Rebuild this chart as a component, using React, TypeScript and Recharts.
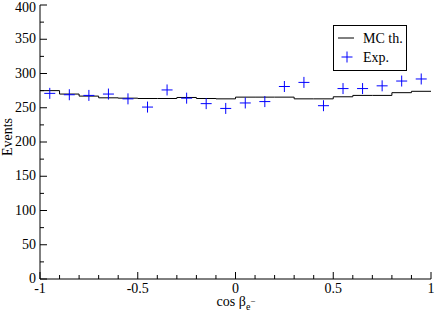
import React from "react";
import { ComposedChart, Line, Scatter, XAxis, YAxis } from "recharts";

// bin edges for the MC histogram (last edge repeats the last bin value)
const MC_EDGES = [-1, -0.9, -0.8, -0.7, -0.6, -0.5, -0.4, -0.3, -0.2, -0.1, 0, 0.1, 0.2, 0.3, 0.4, 0.5, 0.6, 0.7, 0.8, 0.9, 1];
const MC_COUNTS = [275, 270, 267, 264.5, 264, 263.5, 263.5, 265, 263.5, 263, 265.5, 265.5, 265.5, 263, 263, 266, 268, 268, 272, 274, 274];

const BIN_CENTERS = [-0.95, -0.85, -0.75, -0.65, -0.55, -0.45, -0.35, -0.25, -0.15, -0.05, 0.05, 0.15, 0.25, 0.35, 0.45, 0.55, 0.65, 0.75, 0.85, 0.95];
const EXP_COUNTS = [271, 269, 268, 270, 263, 251, 276, 264, 256, 249, 257, 259, 281, 287, 253, 278, 278, 282, 289, 292];

const X_TICKS = [-1, -0.9, -0.8, -0.7, -0.6, -0.5, -0.4, -0.3, -0.2, -0.1, 0, 0.1, 0.2, 0.3, 0.4, 0.5, 0.6, 0.7, 0.8, 0.9, 1];
const Y_TICKS = [0, 25, 50, 75, 100, 125, 150, 175, 200, 225, 250, 275, 300, 325, 350, 375, 400];

const mcData = MC_EDGES.map((x, i) => ({ x, y: MC_COUNTS[i] }));
const expData = BIN_CENTERS.map((x, i) => ({ x, y: EXP_COUNTS[i] }));

const FONT = "'Liberation Serif', 'Times New Roman', serif";
const BLUE = "#0000ff";

const isMajorX = (v: number) => Math.abs(v * 2 - Math.round(v * 2)) < 1e-6;
const isMajorY = (v: number) => v % 50 === 0;

function BottomTick({ x, y, payload }: any) {
  const major = isMajorX(payload.value);
  return (
    <g>
      <line x1={x} x2={x} y1={y} y2={y - (major ? 7 : 4)} stroke="#000" />
      {major && (
        <text x={x} y={y + 14} textAnchor="middle" fontSize={14} fontFamily={FONT} fill="#000">
          {String(payload.value)}
        </text>
      )}
    </g>
  );
}

function TopTick({ x, y, payload }: any) {
  const major = isMajorX(payload.value);
  return <line x1={x} x2={x} y1={y} y2={y + (major ? 7 : 4)} stroke="#000" />;
}

function LeftTick({ x, y, payload }: any) {
  const major = isMajorY(payload.value);
  return (
    <g>
      <line x1={x} x2={x + (major ? 7 : 4)} y1={y} y2={y} stroke="#000" />
      {major && (
        <text x={x - 4} y={Math.max(y + 4, 12)} textAnchor="end" fontSize={14} fontFamily={FONT} fill="#000">
          {String(payload.value)}
        </text>
      )}
    </g>
  );
}

function RightTick({ x, y, payload }: any) {
  const major = isMajorY(payload.value);
  return <line x1={x} x2={x - (major ? 7 : 4)} y1={y} y2={y} stroke="#000" />;
}

function Cross({ cx, cy }: any) {
  if (cx == null || cy == null) return null;
  return (
    <path
      d={`M${cx - 5.5},${cy}H${cx + 5.5}M${cx},${cy - 5.5}V${cy + 5.5}`}
      stroke={BLUE}
      strokeWidth={1}
      fill="none"
    />
  );
}

export default function App() {
  return (
    <div style={{ position: "absolute", left: 0, top: 0, width: 436, height: 316, background: "#fff" }}>
      <ComposedChart width={436} height={316} margin={{ top: 5, right: 5, bottom: 0, left: 0 }}>
        <XAxis
          xAxisId="b"
          dataKey="x"
          type="number"
          domain={[-1, 1]}
          ticks={X_TICKS}
          interval={0}
          height={37}
          tickSize={0}
          tickMargin={0}
          tickLine={false}
          axisLine={{ stroke: "#000" }}
          tick={<BottomTick />}
          allowDataOverflow
          label={{
            content: () => (
              <text x={236} y={306} textAnchor="middle" fontSize={14} fontFamily={FONT} fill="#000">
                cos β
                <tspan fontSize={10} dy={4}>e</tspan>
                <tspan fontSize={9} dy={-6}>−</tspan>
              </text>
            ),
          }}
        />
        <XAxis
          xAxisId="t"
          orientation="top"
          type="number"
          domain={[-1, 1]}
          ticks={X_TICKS}
          interval={0}
          height={0}
          tickSize={0}
          tickMargin={0}
          tickLine={false}
          axisLine={{ stroke: "#000" }}
          tick={<TopTick />}
          allowDataOverflow
        />
        <YAxis
          yAxisId="l"
          dataKey="y"
          type="number"
          domain={[0, 400]}
          ticks={Y_TICKS}
          interval={0}
          width={40}
          tickSize={0}
          tickMargin={0}
          tickLine={false}
          axisLine={{ stroke: "#000" }}
          tick={<LeftTick />}
          allowDataOverflow
          label={{
            content: () => (
              <text
                x={12}
                y={137}
                transform="rotate(-90 12 137)"
                textAnchor="middle"
                fontSize={14}
                fontFamily={FONT}
                fill="#000"
              >
                Events
              </text>
            ),
          }}
        />
        <YAxis
          yAxisId="r"
          orientation="right"
          type="number"
          domain={[0, 400]}
          ticks={Y_TICKS}
          interval={0}
          width={0}
          tickSize={0}
          tickMargin={0}
          tickLine={false}
          axisLine={{ stroke: "#000" }}
          tick={<RightTick />}
          allowDataOverflow
        />
        <Line
          xAxisId="b"
          yAxisId="l"
          data={mcData}
          dataKey="y"
          type="stepAfter"
          stroke="#000"
          strokeWidth={1}
          dot={false}
          activeDot={false}
          isAnimationActive={false}
        />
        <Scatter
          xAxisId="b"
          yAxisId="l"
          data={expData}
          dataKey="y"
          shape={<Cross />}
          isAnimationActive={false}
        />
      </ComposedChart>
      <svg
        width={76}
        height={48}
        style={{ position: "absolute", left: 332, top: 24 }}
      >
        <rect x={1.5} y={1.5} width={73} height={45} fill="#fff" stroke="#000" strokeWidth={1} />
        <line x1={6} x2={22} y1={14} y2={14} stroke="#000" />
        <text x={31} y={18.5} fontSize={14} fontFamily={FONT} fill="#000">MC th.</text>
        <path d="M9.5,33H20.5M15,27.5V38.5" stroke={BLUE} fill="none" />
        <text x={31} y={37.5} fontSize={14} fontFamily={FONT} fill="#000">Exp.</text>
      </svg>
    </div>
  );
}
